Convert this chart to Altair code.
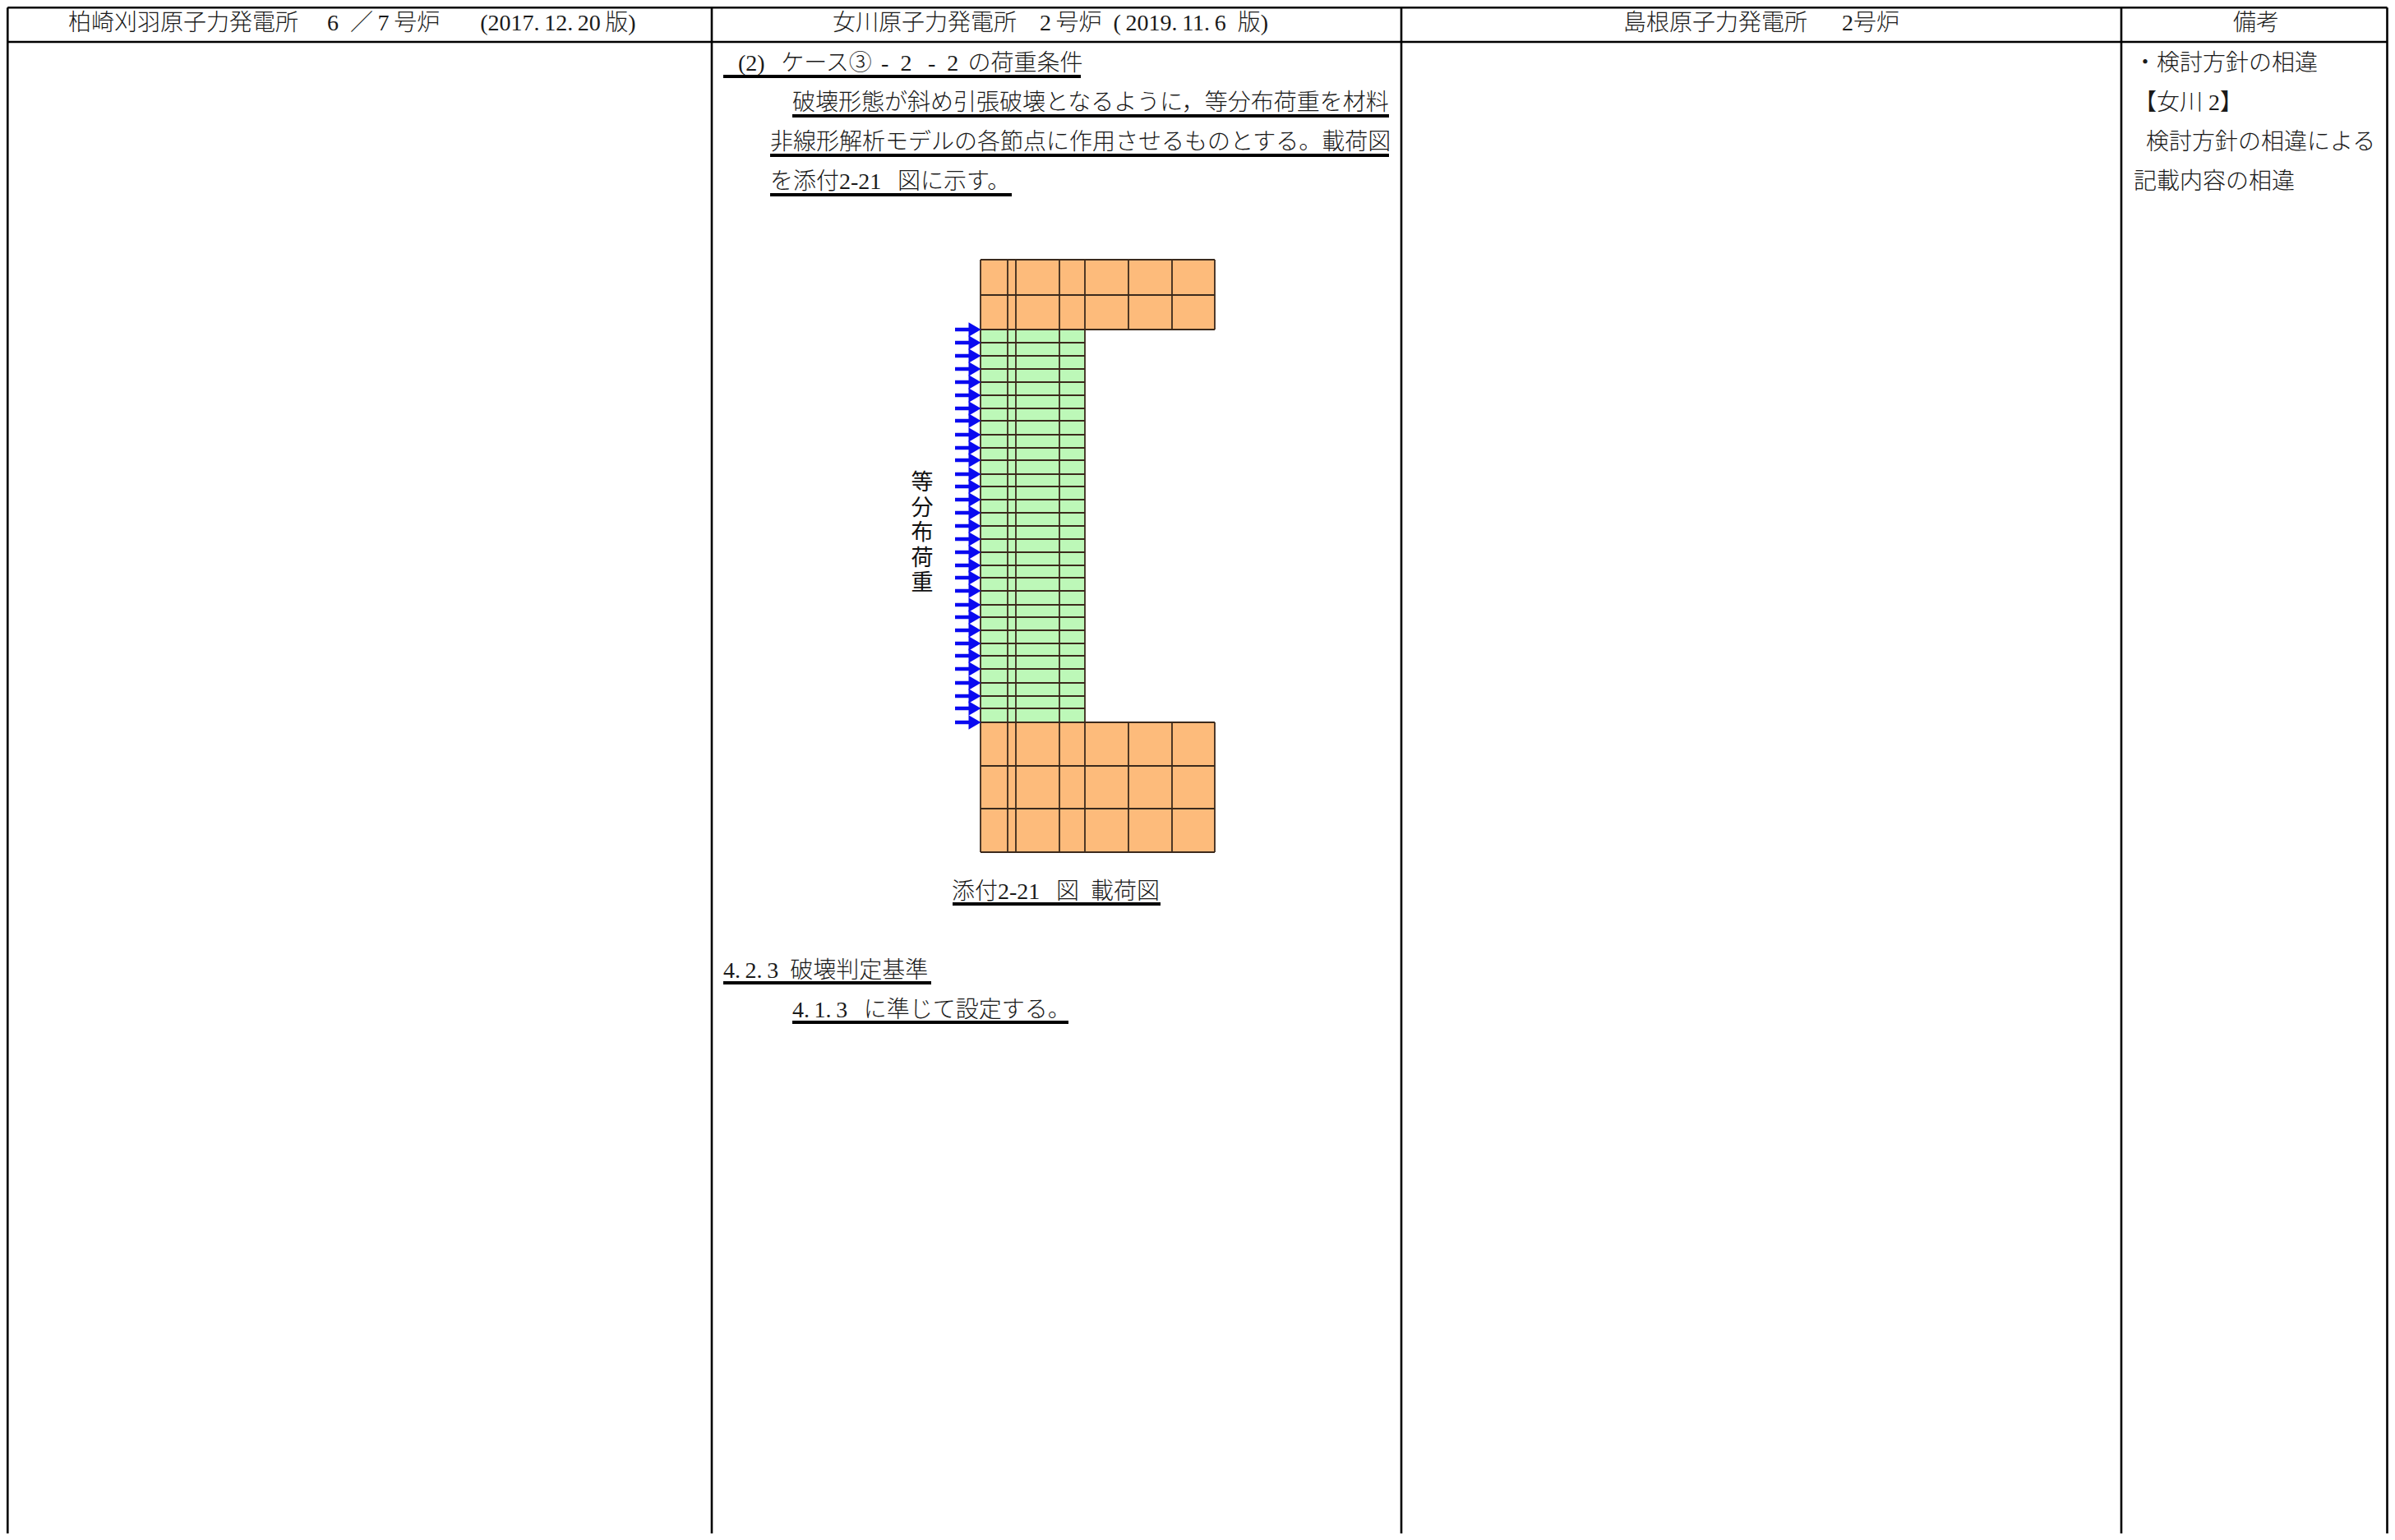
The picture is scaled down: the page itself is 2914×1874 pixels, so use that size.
import altair as alt
import pandas as pd

W, H = 2898, 1858
FONT = "Liberation Serif, Noto Sans CJK JP"
EN, TH, ID = "\u2002", "\u2009", "\u3000"

# table frame
column_lines = [9.3, 866, 1705, 2581, 2904.5]
header_rule_y = 51
top_rule_y = 9.3

# header labels (text, left x)
headers = [
    (f"柏崎刈羽原子力発電所{ID} 6{EN}／{TH}7{TH}号炉{ID}{EN} (2017.{TH}12.{TH}20{TH}版)", 83),
    (f"女川原子力発電所{ID}2{TH}号炉{EN}({TH}2019.{TH}11.{TH}6{EN}版)", 1013),
    (f"島根原子力発電所{ID}{EN}2号炉", 1975),
    ("備考", 2717),
]
header_y = 29

# body text (text, left x, centre y)
body_texts = [
    (f"(2){EN}{TH}ケース③{TH}{TH}-{EN}2{EN}{TH}-{EN}2{TH}{TH}の荷重条件", 898, 78),
    ("破壊形態が斜め引張破壊となるように，等分布荷重を材料", 964, 126),
    ("非線形解析モデルの各節点に作用させるものとする。載荷図", 937, 174),
    (f"を添付2-21{EN}{TH}図に示す。", 937, 222),
    (f"添付2-21{EN}{TH}図{EN}載荷図", 1158, 1086),
    (f"4.{TH}2.{TH}3{EN}破壊判定基準", 880, 1182),
    (f"4.{TH}1.{TH}3{EN}{TH}に準じて設定する。", 964, 1230),
    ("・検討方針の相違", 2596, 78),
    ("【女川 2】", 2596, 126),
    ("検討方針の相違による", 2611, 174),
    ("記載内容の相違", 2596, 222),
]

# underlines: x start, x end, y
underlines = [
    (880, 1315, 93),
    (964, 1690, 141),
    (937, 1690, 189),
    (937, 1231, 237),
    (1159, 1412, 1100),
    (880, 1133, 1196),
    (964, 1300, 1244),
]

# figure geometry
fig_x = [1193, 1226, 1236, 1289, 1320, 1373, 1426, 1478]
web_x = fig_x[:5]
top_y = [316, 359, 401]
bottom_y = [879, 932, 984, 1037]
web_y = [401, 417, 433, 449, 465, 481, 497, 512, 529, 545, 560, 577, 592, 608, 624,
         640, 656, 672, 688, 703, 719, 736, 751, 767, 783, 798, 814, 831, 847, 862, 879]

blocks = [
    (fig_x[0], fig_x[-1], top_y[0], top_y[-1], "#FDBB7B"),
    (fig_x[0], fig_x[-1], bottom_y[0], bottom_y[-1], "#FDBB7B"),
    (web_x[0], web_x[-1], top_y[-1], bottom_y[0], "#BDF8B8"),
]

load_label = "等|分|布|荷|重"
load_label_y = 588
load_label_x = 1122
arrow_start, arrow_end, arrow_head = 1162, 1184, 1186

sx = alt.Scale(domain=[8, 8 + W], range=[0, W])
sy = alt.Scale(domain=[8, 8 + H], range=[0, H])
X = lambda f: alt.X(f, type="quantitative", scale=sx, axis=None)
Y = lambda f: alt.Y(f, type="quantitative", scale=sy, axis=None)

vrules = pd.DataFrame({"x": column_lines, "y": top_rule_y, "y2": 8 + H})
hrules = pd.DataFrame({"x": column_lines[0], "x2": column_lines[-1], "y": [top_rule_y, header_rule_y]})
frame = (
    alt.Chart(vrules).mark_rule(color="#000", strokeWidth=2.6).encode(x=X("x"), y=Y("y"), y2="y2")
    + alt.Chart(hrules).mark_rule(color="#000", strokeWidth=2.6).encode(x=X("x"), x2="x2", y=Y("y"))
)

h_df = pd.DataFrame(headers, columns=["t", "x"]).assign(y=header_y)
head = alt.Chart(h_df).mark_text(font=FONT, fontSize=28, fontWeight=300, align="left", baseline="middle", color="#1a1a1a").encode(
    x=X("x"), y=Y("y"), text="t:N")

b_df = pd.DataFrame(body_texts, columns=["t", "x", "y"])
body = alt.Chart(b_df).mark_text(font=FONT, fontSize=28, fontWeight=300, align="left", baseline="middle", color="#1a1a1a").encode(
    x=X("x"), y=Y("y"), text="t:N")

u_df = pd.DataFrame(underlines, columns=["x", "x2", "y"])
under = alt.Chart(u_df).mark_rule(color="#000", strokeWidth=4).encode(x=X("x"), x2="x2", y=Y("y"))

bl_df = pd.DataFrame(blocks, columns=["x", "x2", "y", "y2", "c"])
rects = alt.Chart(bl_df).mark_rect(strokeWidth=0).encode(
    x=X("x"), x2="x2", y=Y("y"), y2="y2", color=alt.Color("c:N", scale=None))

grid_rows = (
    [(fig_x[0], fig_x[-1], y, y) for y in top_y + bottom_y]
    + [(web_x[0], web_x[-1], y, y) for y in web_y[1:-1]]
)
grid_cols = (
    [(x, x, top_y[0], top_y[-1]) for x in fig_x]
    + [(x, x, bottom_y[0], bottom_y[-1]) for x in fig_x]
    + [(x, x, top_y[-1], bottom_y[0]) for x in web_x]
)
grid_df = pd.DataFrame(grid_rows + grid_cols, columns=["x", "x2", "y", "y2"])
grid = alt.Chart(grid_df).mark_rule(color="#3B2A1C", strokeWidth=1.8).encode(
    x=X("x"), x2="x2", y=Y("y"), y2="y2")

a_df = pd.DataFrame({"y": web_y, "x": arrow_start, "x2": arrow_end, "h": arrow_head})
shafts = alt.Chart(a_df).mark_rule(color="#0A0AF0", strokeWidth=4.5).encode(x=X("x"), x2="x2", y=Y("y"))
heads = alt.Chart(a_df).mark_point(shape="triangle-right", filled=True, color="#0A0AF0", size=300, opacity=1).encode(
    x=X("h"), y=Y("y"))

l_df = pd.DataFrame({"t": [load_label], "y": [load_label_y], "x": [load_label_x]})
label = alt.Chart(l_df).mark_text(font="Noto Sans CJK JP", fontSize=27, color="#111", lineBreak="|", lineHeight=30.5,
                                  align="center", baseline="middle").encode(x=X("x"), y=Y("y"), text="t:N")

chart = alt.layer(
    frame, head, body, under, rects, grid, shafts, heads, label
).properties(width=W, height=H, padding=0, autosize=alt.AutoSizeParams(type="none"), background="white"
).configure_view(stroke=None)

chart.save("out.html", embed_options={"renderer": "svg", "actions": False})
